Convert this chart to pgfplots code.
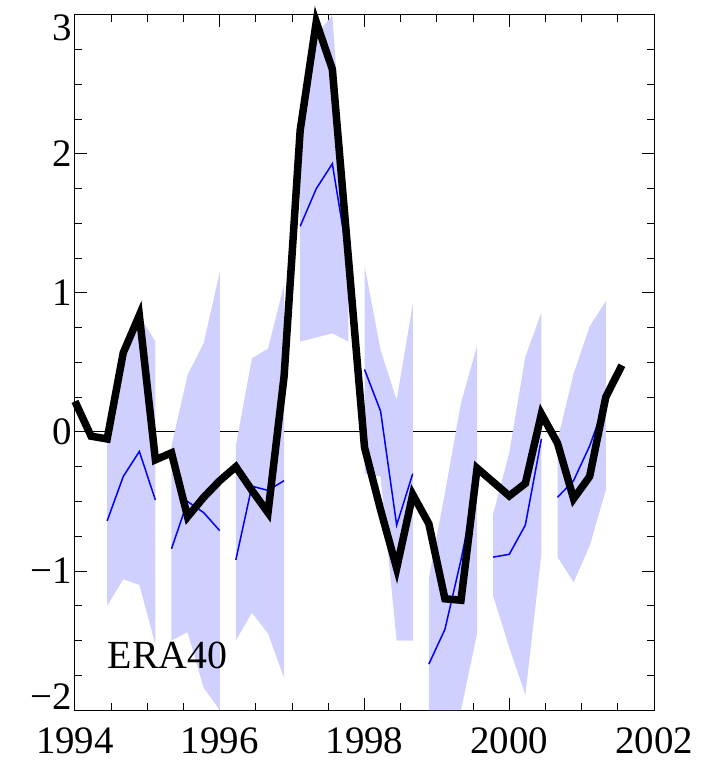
\documentclass[border=0pt]{standalone}
\usepackage{fontspec}
\setmainfont{Liberation Serif}
\usepackage{pgfplots}
\pgfplotsset{compat=1.18}
\definecolor{band}{RGB}{208,208,255}
\begin{document}
\begin{tikzpicture}
\useasboundingbox (-75bp,-51bp) rectangle (627bp,710bp);
\begin{axis}[
  at={(0,0)}, anchor=south west,
  scale only axis, width=579bp, height=695bp,
  xmin=1994, xmax=2002, ymin=-2, ymax=3,
  clip=false,
  axis line style={line width=1bp},
  xtick={1994,1996,1998,2000,2002},
  xticklabels={1994,1996,1998,2000,2002},
  ytick={-2,-1,0,1,2,3},
  yticklabels={\raisebox{13bp}[\height][0pt]{−2},−1,0,1,2,\raisebox{-13bp}[\height][0pt]{3}},
  minor x tick num=3, minor y tick num=3,
  tick align=inside,
  major tick length=12bp, minor tick length=7bp,
  tick style={black, line width=1bp},
  tick label style={font=\fontsize{39}{47}\selectfont},
  xticklabel style={yshift=-14bp},
]
% zero line
\addplot[black, line width=1bp] coordinates {(1994,0) (2002,0)};
% spread bands
\addplot[fill=band, draw=none] coordinates {(1994.4444,-0.03) (1994.6667,0.55) (1994.8889,0.84) (1995.1111,0.65) (1995.1111,-1.53) (1994.8889,-1.10) (1994.6667,-1.06) (1994.4444,-1.25)} --cycle;
\addplot[fill=band, draw=none] coordinates {(1995.3333,-0.10) (1995.5556,0.41) (1995.7778,0.64) (1996.0000,1.15) (1996.0000,-2.00) (1995.7778,-1.84) (1995.5556,-1.44) (1995.3333,-1.50)} --cycle;
\addplot[fill=band, draw=none] coordinates {(1996.2222,-0.10) (1996.4444,0.53) (1996.6667,0.60) (1996.8889,1.06) (1996.8889,-1.77) (1996.6667,-1.45) (1996.4444,-1.30) (1996.2222,-1.50)} --cycle;
\addplot[fill=band, draw=none] coordinates {(1997.1111,2.17) (1997.3333,2.85) (1997.5556,3.00) (1997.7778,1.35) (1997.7778,0.65) (1997.5556,0.71) (1997.3333,0.68) (1997.1111,0.65)} --cycle;
\addplot[fill=band, draw=none] coordinates {(1998.0000,1.20) (1998.2222,0.59) (1998.4444,0.23) (1998.6667,0.92) (1998.6667,-1.50) (1998.4444,-1.50) (1998.2222,-0.32) (1998.0000,-0.30)} --cycle;
\addplot[fill=band, draw=none] coordinates {(1998.8889,-1.05) (1999.1111,-0.44) (1999.3333,0.21) (1999.5556,0.62) (1999.5556,-1.45) (1999.3333,-2.00) (1999.1111,-2.00) (1998.8889,-2.00)} --cycle;
\addplot[fill=band, draw=none] coordinates {(1999.7778,-0.59) (2000.0000,-0.15) (2000.2222,0.54) (2000.4444,0.86) (2000.4444,-0.88) (2000.2222,-1.89) (2000.0000,-1.55) (1999.7778,-1.18)} --cycle;
\addplot[fill=band, draw=none] coordinates {(2000.6667,-0.06) (2000.8889,0.42) (2001.1111,0.76) (2001.3333,0.94) (2001.3333,-0.42) (2001.1111,-0.82) (2000.8889,-1.08) (2000.6667,-0.90)} --cycle;
% ensemble mean (blue)
\addplot[blue, line width=1.5bp] coordinates {(1994.4444,-0.64) (1994.6667,-0.32) (1994.8889,-0.14) (1995.1111,-0.49)};
\addplot[blue, line width=1.5bp] coordinates {(1995.3333,-0.84) (1995.5556,-0.50) (1995.7778,-0.58) (1996.0000,-0.71)};
\addplot[blue, line width=1.5bp] coordinates {(1996.2222,-0.92) (1996.4444,-0.39) (1996.6667,-0.42) (1996.8889,-0.35)};
\addplot[blue, line width=1.5bp] coordinates {(1997.1111,1.48) (1997.3333,1.75) (1997.5556,1.93) (1997.7778,1.22)};
\addplot[blue, line width=1.5bp] coordinates {(1998.0000,0.45) (1998.2222,0.15) (1998.4444,-0.67) (1998.6667,-0.30)};
\addplot[blue, line width=1.5bp] coordinates {(1998.8889,-1.67) (1999.1111,-1.42) (1999.3333,-0.92) (1999.5556,-0.35)};
\addplot[blue, line width=1.5bp] coordinates {(1999.7778,-0.90) (2000.0000,-0.88) (2000.2222,-0.67) (2000.4444,-0.05)};
\addplot[blue, line width=1.5bp] coordinates {(2000.6667,-0.47) (2000.8889,-0.35) (2001.1111,-0.10) (2001.3333,0.22)};
% ERA40 (black)
\addplot[black, line width=7.5bp, line join=miter] coordinates {
(1994.0000,0.22) (1994.2222,-0.03) (1994.4444,-0.05) (1994.6667,0.57) (1994.8889,0.84)
(1995.1111,-0.20) (1995.3333,-0.15) (1995.5556,-0.61) (1995.7778,-0.47) (1996.0000,-0.35)
(1996.2222,-0.25) (1996.4444,-0.42) (1996.6667,-0.58) (1996.8889,0.40) (1997.1111,2.17)
(1997.3333,2.95) (1997.5556,2.61) (1997.7778,1.25) (1998.0000,-0.11) (1998.2222,-0.56)
(1998.4444,-0.98) (1998.6667,-0.45) (1998.8889,-0.66) (1999.1111,-1.20) (1999.3333,-1.21)
(1999.5556,-0.26) (1999.7778,-0.36) (2000.0000,-0.46) (2000.2222,-0.37) (2000.4444,0.13)
(2000.6667,-0.08) (2000.8889,-0.48) (2001.1111,-0.32) (2001.3333,0.25) (2001.5556,0.48)};
\node[anchor=base west, inner sep=0pt, font=\fontsize{40}{48}\selectfont] at (axis cs:1994.45,-1.70) {ERA40};
\end{axis}
\end{tikzpicture}
\end{document}
